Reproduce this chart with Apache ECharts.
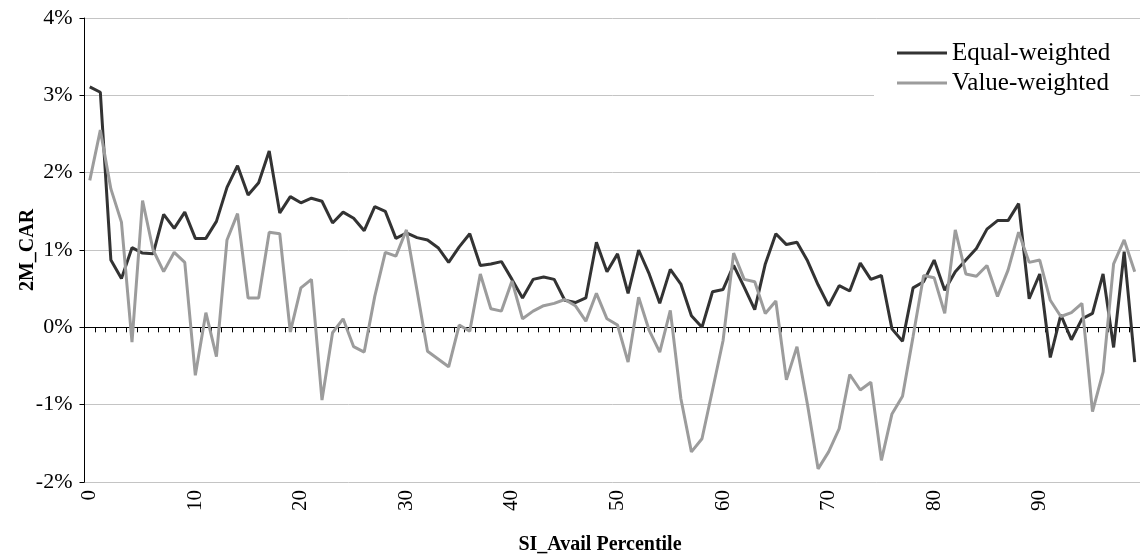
<!DOCTYPE html>
<html><head><meta charset="utf-8">
<script src="https://cdn.jsdelivr.net/npm/echarts@6/dist/echarts.min.js"></script>
<style>html,body{margin:0;padding:0;background:#fff}#c{width:1140px;height:560px}</style>
</head><body><div id="c"></div>
<script>
const percentiles = ['0','1','2','3','4','5','6','7','8','9','10','11','12','13','14','15','16','17','18','19','20','21','22','23','24','25','26','27','28','29','30','31','32','33','34','35','36','37','38','39','40','41','42','43','44','45','46','47','48','49','50','51','52','53','54','55','56','57','58','59','60','61','62','63','64','65','66','67','68','69','70','71','72','73','74','75','76','77','78','79','80','81','82','83','84','85','86','87','88','89','90','91','92','93','94','95','96','97','98','99'];
const equalWeighted = [3.11,3.04,0.87,0.63,1.03,0.96,0.95,1.46,1.28,1.49,
  1.15,1.15,1.37,1.81,2.09,1.71,1.87,2.28,1.48,1.69,
  1.61,1.67,1.63,1.35,1.49,1.41,1.25,1.56,1.50,1.15,
  1.22,1.16,1.13,1.03,0.84,1.04,1.21,0.80,0.82,0.85,
  0.62,0.38,0.62,0.65,0.62,0.35,0.32,0.38,1.10,0.72,
  0.95,0.44,1.00,0.69,0.31,0.75,0.56,0.15,0.00,0.46,
  0.49,0.80,0.52,0.23,0.82,1.21,1.07,1.10,0.86,0.55,
  0.28,0.54,0.47,0.83,0.62,0.67,-0.02,-0.18,0.51,0.59,
  0.87,0.48,0.72,0.87,1.02,1.27,1.38,1.38,1.60,0.37,
  0.69,-0.39,0.16,-0.16,0.11,0.18,0.69,-0.26,0.98,-0.45];
const valueWeighted = [1.90,2.55,1.79,1.36,-0.19,1.64,1.00,0.72,0.97,0.84,
  -0.62,0.19,-0.38,1.13,1.47,0.38,0.38,1.23,1.21,-0.06,
  0.51,0.62,-0.94,-0.07,0.11,-0.25,-0.32,0.40,0.97,0.92,
  1.26,0.48,-0.31,-0.41,-0.51,0.03,-0.05,0.69,0.24,0.21,
  0.60,0.11,0.21,0.28,0.31,0.36,0.28,0.08,0.44,0.11,
  0.03,-0.45,0.39,-0.04,-0.32,0.22,-0.92,-1.61,-1.44,-0.81,
  -0.17,0.96,0.62,0.59,0.18,0.34,-0.68,-0.25,-1.00,-1.83,
  -1.61,-1.31,-0.61,-0.81,-0.71,-1.72,-1.12,-0.89,-0.12,0.67,
  0.64,0.18,1.26,0.69,0.66,0.80,0.40,0.74,1.23,0.84,
  0.87,0.35,0.14,0.19,0.31,-1.09,-0.58,0.82,1.13,0.72];
const seriesNames = ['Equal-weighted','Value-weighted'];
const yMin = -2, yMax = 4, yStep = 1;
const xTitle = 'SI_Avail Percentile';
const yTitle = '2M_CAR';

const FONT = '"Liberation Serif", "Times New Roman", serif';
const chart = echarts.init(document.getElementById('c'));
chart.setOption({
  animation: false,
  backgroundColor: '#fff',
  grid: {left: 84.5, top: 18, width: 1060, height: 464, containLabel: false},
  legend: {
    orient: 'vertical', left: 874, top: 34,
    backgroundColor: '#fff', padding: [5, 20, 4, 23],
    itemWidth: 50, itemHeight: 3, itemGap: 2, icon: 'rect',
    textStyle: {fontFamily: FONT, fontSize: 25, color: '#000', lineHeight: 28},
    data: seriesNames
  },
  xAxis: [
    {type: 'category', data: percentiles, boundaryGap: true,
     axisLine: {onZero: true, lineStyle: {color: '#000', width: 1}},
     axisTick: {show: true, interval: 0, length: 5, lineStyle: {color: '#000'}},
     axisLabel: {show: false}, splitLine: {show: false}},
    {type: 'category', data: percentiles, boundaryGap: true, position: 'bottom',
     axisLine: {show: false, onZero: false}, axisTick: {show: false},
     axisLabel: {interval: (i) => i % 10 === 0, rotate: 90, fontFamily: FONT, fontSize: 21, color: '#000', margin: 8},
     splitLine: {show: false}}
  ],
  yAxis: {type: 'value', min: yMin, max: yMax, interval: yStep,
    axisLine: {show: true, lineStyle: {color: '#000', width: 1}},
    axisTick: {show: true, length: 5, lineStyle: {color: '#000'}},
    axisLabel: {formatter: (v) => v + '%', fontFamily: FONT, fontSize: 22, color: '#000', margin: 12},
    splitLine: {show: true, lineStyle: {color: '#c4c4c4', width: 1}}
  },
  series: [
    {name: seriesNames[0], type: 'line', xAxisIndex: 0, data: equalWeighted, symbol: 'none',
     color: '#333333', lineStyle: {color: '#333333', width: 3}, z: 3},
    {name: seriesNames[1], type: 'line', xAxisIndex: 0, data: valueWeighted, symbol: 'none',
     color: '#9c9c9c', lineStyle: {color: '#9c9c9c', width: 3}, z: 4}
  ],
  graphic: [
    {type: 'text', x: 600, y: 545, style: {text: xTitle, fontFamily: FONT, fontSize: 20, fontWeight: 'bold', fill: '#000', align: 'center', verticalAlign: 'middle'}},
    {type: 'text', x: 28, y: 250, rotation: Math.PI / 2, style: {text: yTitle, fontFamily: FONT, fontSize: 20, fontWeight: 'bold', fill: '#000', align: 'center', verticalAlign: 'middle'}}
  ]
});
</script></body></html>
